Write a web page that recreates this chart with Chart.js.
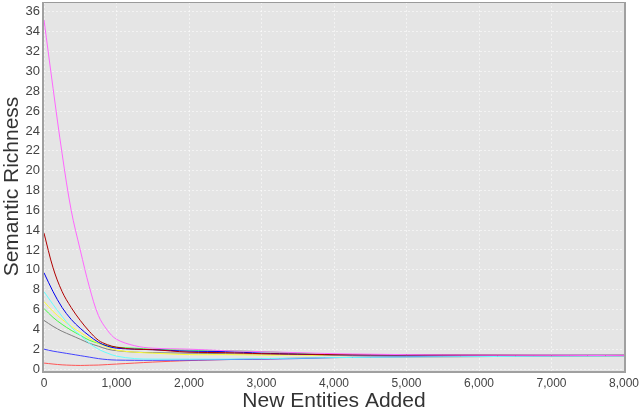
<!DOCTYPE html>
<html>
<head>
<meta charset="utf-8">
<script src="https://cdn.jsdelivr.net/npm/chart.js@4/dist/chart.umd.min.js"></script>
<style>
html,body{margin:0;padding:0;background:#fff;}
#wrap{width:640px;height:414px;}
</style>
</head>
<body>
<div id="wrap"><canvas id="c" width="640" height="414"></canvas></div>
<script>
const entitiesAdded = [0,125,250,375,500,625,750,875,1000,1250,1500,2000,2500,3000,3500,4000,5000,6000,7000,8000];
const magentaSeries = [35.2,28.3,21.7,16.0,12.0,8.3,5.4,3.9,3.0,2.35,2.1,2.0,1.85,1.75,1.65,1.55,1.45,1.4,1.38,1.35];
const darkRedSeries = [13.7,10.2,7.8,6.2,4.9,3.8,2.9,2.45,2.2,2.0,1.95,1.7,1.65,1.55,1.5,1.45,1.42,1.4,1.38,1.38];
const blueSeries = [9.7,7.8,6.2,5.0,4.1,3.35,2.7,2.3,2.1,2.0,1.95,1.8,1.75,1.6,1.5,1.42,1.4,1.38,1.38,1.38];
const cyanSeries = [7.8,6.5,5.3,4.2,3.4,2.6,2.0,1.6,1.3,1.05,1.0,1.0,1.0,1.05,1.1,1.15,1.2,1.25,1.3,1.3];
const yellowSeries = [6.8,5.8,5.0,4.3,3.7,3.1,2.6,2.2,1.9,1.7,1.6,1.45,1.45,1.4,1.4,1.35,1.35,1.35,1.35,1.35];
const greenSeries = [6.1,5.2,4.5,3.9,3.4,2.9,2.6,2.35,2.2,2.1,2.0,1.9,1.85,1.75,1.6,1.45,1.4,1.38,1.36,1.35];
const graySeries = [4.9,4.3,3.8,3.4,3.0,2.6,2.3,2.0,1.85,1.7,1.65,1.6,1.55,1.5,1.45,1.4,1.38,1.36,1.35,1.35];
const lightBlueSeries = [2.0,1.8,1.65,1.5,1.35,1.2,1.05,0.95,0.9,0.88,0.88,0.9,0.95,1.0,1.05,1.15,1.25,1.3,1.32,1.35];
const lightRedSeries = [0.6,0.5,0.42,0.38,0.36,0.38,0.4,0.45,0.5,0.6,0.7,0.85,0.95,1.0,1.1,1.15,1.2,1.25,1.3,1.3];
const xTickStep = 1000;
const yTickStep = 2;

const seriesList = [
  {name:'S1', values: magentaSeries, color:'#ff66ff'},
  {name:'S2', values: darkRedSeries, color:'#b00000'},
  {name:'S3', values: blueSeries, color:'#0000ee'},
  {name:'S4', values: cyanSeries, color:'#66ffff'},
  {name:'S5', values: yellowSeries, color:'#ffff33'},
  {name:'S6', values: greenSeries, color:'#44ff44'},
  {name:'S7', values: graySeries, color:'#808080'},
  {name:'S8', values: lightBlueSeries, color:'#4444ff'},
  {name:'S9', values: lightRedSeries, color:'#ff5555'}
];

const datasets = seriesList.map(s => ({
  label: s.name,
  data: entitiesAdded.map((x,i) => ({x: x, y: s.values[i]})),
  borderColor: s.color,
  backgroundColor: s.color,
  borderWidth: 1,
  pointRadius: 0,
  fill: false,
  tension: 0.35
}));

const plotBg = {
  id: 'plotBg',
  beforeDraw(chart) {
    const a = chart.chartArea, ctx = chart.ctx;
    ctx.save();
    ctx.fillStyle = '#e5e5e5';
    ctx.fillRect(a.left, a.top, a.right - a.left, a.bottom - a.top);
    ctx.restore();
  },
  afterDraw(chart) {
    const a = chart.chartArea, ctx = chart.ctx;
    ctx.save();
    ctx.strokeStyle = '#9a9a9a';
    ctx.lineWidth = 1;
    ctx.beginPath();
    ctx.moveTo(a.left, a.top + 0.5);
    ctx.lineTo(a.right, a.top + 0.5);
    ctx.stroke();
    ctx.lineWidth = 2;
    ctx.strokeStyle = '#a0a0a0';
    ctx.beginPath();
    ctx.moveTo(a.left - 1, a.top);
    ctx.lineTo(a.left - 1, a.bottom + 1);
    ctx.lineTo(a.right + 1, a.bottom + 1);
    ctx.lineTo(a.right + 1, a.top);
    ctx.stroke();
    ctx.restore();
  }
};

new Chart(document.getElementById('c'), {
  type: 'line',
  data: { datasets },
  options: {
    responsive: false,
    animation: false,
    devicePixelRatio: 1,
    layout: { padding: { top: 2, right: 16, left: 0, bottom: 0 } },
    plugins: { legend: { display: false }, tooltip: { enabled: false } },
    scales: {
      x: {
        type: 'linear',
        min: 0, max: 8000,
        border: { display: false, dash: [2, 2] },
        grid: { color: 'rgba(255,255,255,0.55)', lineWidth: 1, drawTicks: false },
        ticks: {
          stepSize: xTickStep,
          color: '#444',
          font: { family: 'Liberation Sans', size: 12 },
          padding: 5,
          maxRotation: 0,
          callback: v => v.toLocaleString('en-US')
        },
        title: {
          display: true,
          text: 'New Entities Added',
          color: '#333',
          font: { family: 'Liberation Sans', size: 21 },
          padding: { top: 1, bottom: 0 }
        },
        afterFit(scale) { scale.height = 43; scale.paddingRight = 0; }
      },
      y: {
        type: 'linear',
        min: -0.2, max: 37,
        border: { display: false, dash: [2, 2] },
        grid: { color: 'rgba(255,255,255,0.55)', lineWidth: 1, drawTicks: false },
        ticks: {
          stepSize: yTickStep,
          color: '#444',
          font: { family: 'Liberation Sans', size: 13 },
          padding: 4,
          callback: v => String(Math.round(v))
        },
        afterBuildTicks(scale) {
          const t = [];
          for (let v = 0; v <= 36; v += yTickStep) t.push({value: v});
          scale.ticks = t;
        },
        title: {
          display: true,
          text: 'Semantic Richness',
          color: '#333',
          font: { family: 'Liberation Sans', size: 21 },
          padding: { top: 0, bottom: 0 }
        },
        afterFit(scale) { scale.width = 44; scale.paddingTop = 0; scale.paddingBottom = 0; }
      }
    }
  },
  plugins: [plotBg]
});
</script>
</body>
</html>
